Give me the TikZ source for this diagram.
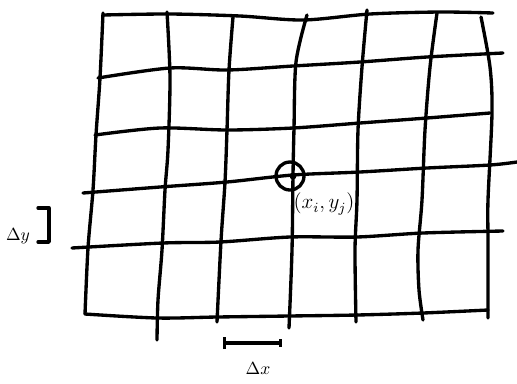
\documentclass[tikz,border=0pt]{standalone}
\usepackage{amsmath}
\usepackage{amssymb}
\usepackage{xcolor}
\usepackage{tikz}
\usetikzlibrary{positioning, arrows.meta}

\begin{document}
\begin{tikzpicture}[x=0.02cm, y=-0.02cm,
  pen/.style={line width=1.9pt, line cap=round, line join=round}]
\useasboundingbox (0,0) rectangle (517,383);
% horizontal lines
\draw[pen] plot[smooth] coordinates {(103,15) (170,14) (240,16) (303,20) (370,14) (440,12) (493,13)};
\draw[pen] plot[smooth] coordinates {(98,78) (170,68) (227,70) (293,66) (360,62) (427,57) (503,53)};
\draw[pen] plot[smooth] coordinates {(95,135) (160,128) (227,130) (293,128) (360,123) (427,118) (490,113)};
\draw[pen] plot[smooth] coordinates {(83,193) (160,187) (227,182) (293,175) (360,172) (427,168) (490,165) (517,162)};
\draw[pen] plot[smooth] coordinates {(72,248) (163,243) (220,242) (290,237) (357,237) (423,233) (503,231)};
\draw[pen] plot[smooth] coordinates {(85,314) (157,318) (217,317) (289,316) (357,315) (423,313) (488,310)};
% vertical lines
\draw[pen] plot[smooth] coordinates {(103,13) (100,78) (96,135) (93,190) (88,248) (85,314)};
\draw[pen] plot[smooth] coordinates {(167,12) (170,78) (168,150) (165,190) (162,250) (158,300) (157,340)};
\draw[pen] plot[smooth] coordinates {(233,17) (229,70) (227,130) (225,182) (221,241) (217,322)};
\draw[pen] plot[smooth] coordinates {(307,15) (296,62) (294,128) (293,175) (292,250) (289,328)};
\draw[pen] plot[smooth] coordinates {(367,10) (362,67) (358,130) (357,200) (355,250) (356,322)};
\draw[pen] plot[smooth] coordinates {(437,13) (430,67) (425,130) (422,200) (418,250) (419,290) (423,320)};
\draw[pen] plot[smooth] coordinates {(481,17) (490,67) (492,113) (488,200) (488,240) (488,318)};
% grid point
\node[pen, draw, circle, minimum size=0.56cm, inner sep=0pt] (ring) at (290,176) {};
\fill (293,176) circle (3.5);
\node[font=\large] (pt) at (324,204) {$(x_i,y_j)$};
% spacing marks
\coordinate (dyTop) at (38,208);
\coordinate (dyBot) at (38,242);
\draw[pen] (dyTop) -| (49,242) -- (dyBot);
\node (dy) at (18,236) {$\Delta y$};
\coordinate (dxL) at (223,343);
\coordinate (dxR) at (282,343);
\draw[pen, {Bar[width=7pt]}-{Bar[width=4pt]}] (dxL) -- (dxR);
\node (dx) at (258,368) {$\Delta x$};
\end{tikzpicture}
\end{document}
